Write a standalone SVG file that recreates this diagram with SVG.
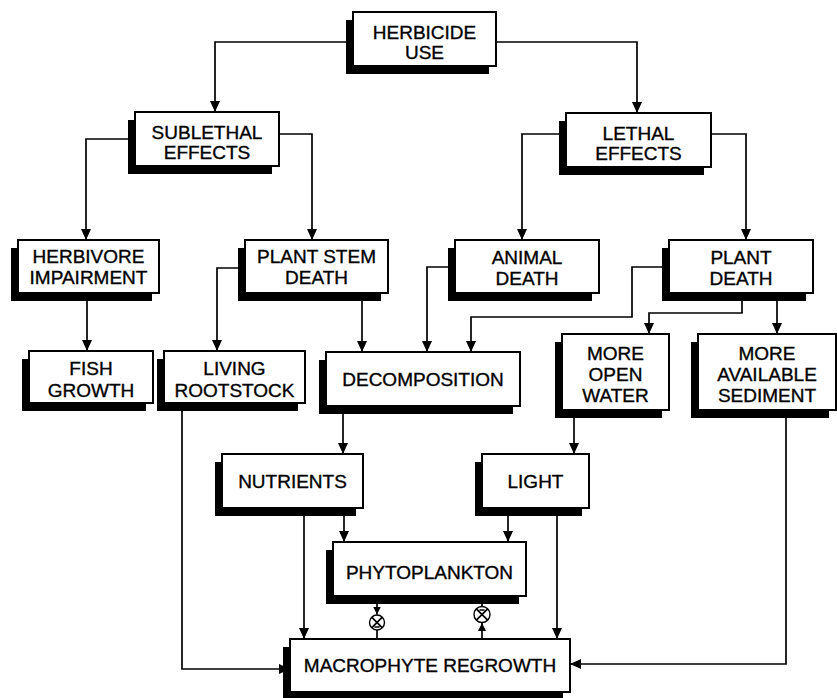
<svg xmlns="http://www.w3.org/2000/svg" width="837" height="698" viewBox="0 0 837 698">
<defs>
<style>
.sh{fill:#000}
.bx{fill:#fff;stroke:#000;stroke-width:2}
.t{font-family:"Liberation Sans",Arial,sans-serif;font-size:19px;fill:#000;stroke:#000;stroke-width:0.35;text-anchor:middle}
.c{fill:none;stroke:#000;stroke-width:1.7}
.sym{fill:#fff;stroke:#000;stroke-width:1.4}
</style>
<marker id="ah" viewBox="0 0 11 10" refX="11" refY="5" markerWidth="11" markerHeight="10" markerUnits="userSpaceOnUse" orient="auto">
<path d="M0,0 L11,5 L0,10 Z" fill="#000"/>
</marker>
<marker id="ahs" viewBox="0 0 8 8" refX="8" refY="4" markerWidth="8" markerHeight="8" markerUnits="userSpaceOnUse" orient="auto">
<path d="M0,0 L8,4 L0,8 Z" fill="#000"/>
</marker>
</defs>
<rect width="837" height="698" fill="#fff"/>

<g id="connectors">
<path class="c" d="M353,42 H215 V112" marker-end="url(#ah)"/>
<path class="c" d="M496,42 H637 V113" marker-end="url(#ah)"/>
<path class="c" d="M135,139 H86 V240" marker-end="url(#ah)"/>
<path class="c" d="M279,134 H312 V240" marker-end="url(#ah)"/>
<path class="c" d="M566,134 H522 V240" marker-end="url(#ah)"/>
<path class="c" d="M711,134 H746 V240" marker-end="url(#ah)"/>
<path class="c" d="M87,293 V351" marker-end="url(#ah)"/>
<path class="c" d="M245,268 H217 V351" marker-end="url(#ah)"/>
<path class="c" d="M362,293 V352" marker-end="url(#ah)"/>
<path class="c" d="M455,267 H427 V352" marker-end="url(#ah)"/>
<path class="c" d="M669,267 H632 V317 H471 V352" marker-end="url(#ah)"/>
<path class="c" d="M742,293 V313 H649 V334" marker-end="url(#ah)"/>
<path class="c" d="M777,293 V334" marker-end="url(#ah)"/>
<path class="c" d="M343,406 V454" marker-end="url(#ah)"/>
<path class="c" d="M574,410 V454" marker-end="url(#ah)"/>
<path class="c" d="M304,508 V639" marker-end="url(#ah)"/>
<path class="c" d="M344,508 V542" marker-end="url(#ah)"/>
<path class="c" d="M508,508 V542" marker-end="url(#ah)"/>
<path class="c" d="M557,508 V639" marker-end="url(#ah)"/>
<path class="c" d="M182,403 V669 H290" marker-end="url(#ah)"/>
<path class="c" d="M786,410 V664 H570" marker-end="url(#ah)"/>
<path class="c" d="M377,600 V614.5" marker-end="url(#ahs)"/>
<path class="c" d="M377,630 V639"/>
<path class="c" d="M482,639 V623" marker-end="url(#ahs)"/>
<path class="c" d="M482,606 V598"/>
</g>

<g id="sym-left">
<circle class="sym" cx="377" cy="622.5" r="7.5"/>
<path class="c" stroke-width="1.2" d="M371.7,617.2 L382.3,627.8 M382.3,617.2 L371.7,627.8 M374.5,627 H379.5"/>
</g>
<g id="sym-right">
<circle class="sym" cx="482" cy="614.5" r="8"/>
<path class="c" stroke-width="1.2" d="M476.3,608.8 L487.7,620.2 M487.7,608.8 L476.3,620.2 M479.5,610 H484.5"/>
</g>

<g id="herbicide-use">
<rect class="sh" x="346" y="20" width="143" height="54"/>
<rect class="bx" x="353" y="12" width="143" height="54"/>
<text class="t" x="424.5" y="38.5">HERBICIDE</text>
<text class="t" x="424.5" y="58.5">USE</text>
</g>
<g id="sublethal-effects">
<rect class="sh" x="128" y="120" width="144" height="54"/>
<rect class="bx" x="135" y="112" width="144" height="54"/>
<text class="t" x="207" y="138.5">SUBLETHAL</text>
<text class="t" x="207" y="158.5">EFFECTS</text>
</g>
<g id="lethal-effects">
<rect class="sh" x="559" y="121" width="145" height="54"/>
<rect class="bx" x="566" y="113" width="145" height="54"/>
<text class="t" x="638.5" y="140">LETHAL</text>
<text class="t" x="638.5" y="159.5">EFFECTS</text>
</g>
<g id="herbivore-impairment">
<rect class="sh" x="11" y="248" width="141" height="53"/>
<rect class="bx" x="18" y="240" width="141" height="53"/>
<text class="t" x="88.5" y="262.5">HERBIVORE</text>
<text class="t" x="88.5" y="283.5">IMPAIRMENT</text>
</g>
<g id="plant-stem-death">
<rect class="sh" x="238" y="248" width="143" height="53"/>
<rect class="bx" x="245" y="240" width="143" height="53"/>
<text class="t" x="316.5" y="262.5">PLANT STEM</text>
<text class="t" x="316.5" y="283.5">DEATH</text>
</g>
<g id="animal-death">
<rect class="sh" x="448" y="248" width="144" height="53"/>
<rect class="bx" x="455" y="240" width="144" height="53"/>
<text class="t" x="527" y="264">ANIMAL</text>
<text class="t" x="527" y="285">DEATH</text>
</g>
<g id="plant-death">
<rect class="sh" x="662" y="248" width="144" height="53"/>
<rect class="bx" x="669" y="240" width="144" height="53"/>
<text class="t" x="741" y="264">PLANT</text>
<text class="t" x="741" y="285">DEATH</text>
</g>
<g id="fish-growth">
<rect class="sh" x="22" y="359" width="124" height="52"/>
<rect class="bx" x="29" y="351" width="124" height="52"/>
<text class="t" x="91" y="375">FISH</text>
<text class="t" x="91" y="396.5">GROWTH</text>
</g>
<g id="living-rootstock">
<rect class="sh" x="157" y="359" width="141" height="52"/>
<rect class="bx" x="164" y="351" width="141" height="52"/>
<text class="t" x="234.5" y="375">LIVING</text>
<text class="t" x="234.5" y="396.5">ROOTSTOCK</text>
</g>
<g id="decomposition">
<rect class="sh" x="319" y="360" width="194" height="54"/>
<rect class="bx" x="326" y="352" width="194" height="54"/>
<text class="t" x="423" y="386">DECOMPOSITION</text>
</g>
<g id="more-open-water">
<rect class="sh" x="555" y="342" width="107" height="76"/>
<rect class="bx" x="562" y="334" width="107" height="76"/>
<text class="t" x="615.5" y="360">MORE</text>
<text class="t" x="615.5" y="381">OPEN</text>
<text class="t" x="615.5" y="402">WATER</text>
</g>
<g id="more-available-sediment">
<rect class="sh" x="691" y="342" width="138" height="76"/>
<rect class="bx" x="698" y="334" width="138" height="76"/>
<text class="t" x="767" y="360">MORE</text>
<text class="t" x="767" y="381">AVAILABLE</text>
<text class="t" x="767" y="402">SEDIMENT</text>
</g>
<g id="nutrients">
<rect class="sh" x="215" y="462" width="141" height="54"/>
<rect class="bx" x="222" y="454" width="141" height="54"/>
<text class="t" x="292.5" y="488">NUTRIENTS</text>
</g>
<g id="light">
<rect class="sh" x="475" y="462" width="107" height="54"/>
<rect class="bx" x="482" y="454" width="107" height="54"/>
<text class="t" x="535.5" y="488">LIGHT</text>
</g>
<g id="phytoplankton">
<rect class="sh" x="326" y="550" width="193" height="54"/>
<rect class="bx" x="333" y="542" width="193" height="54"/>
<text class="t" x="429.5" y="579">PHYTOPLANKTON</text>
</g>
<g id="macrophyte-regrowth">
<rect class="sh" x="283" y="647" width="280" height="53"/>
<rect class="bx" x="290" y="639" width="280" height="53"/>
<text class="t" x="430" y="672">MACROPHYTE REGROWTH</text>
</g>
</svg>
